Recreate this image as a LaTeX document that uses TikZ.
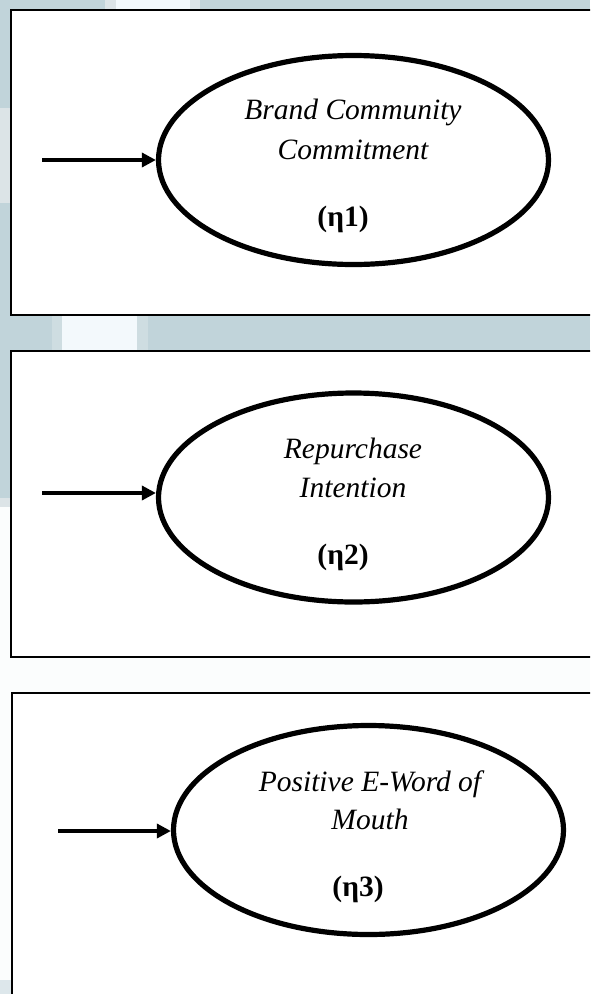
\documentclass[tikz,border=0pt]{standalone}
\usepackage{fontspec}
\setmainfont{Liberation Serif}
\usetikzlibrary{shapes.geometric,arrows.meta}

\definecolor{slatebg}{HTML}{C1D4DA}
\definecolor{slatelight}{HTML}{DCE4E7}
\definecolor{paleblue}{HTML}{F3F9FC}
\definecolor{nearwhite}{HTML}{FBFDFD}

\begin{document}
\begin{tikzpicture}[x=1pt,y=-1pt,
  panel/.style={draw=black,line width=2pt,fill=white},
  construct/.style={ellipse,draw=black,line width=5.2pt,
    minimum width=390pt,minimum height=209pt,inner sep=0pt},
  nametext/.style={font=\fontsize{29.5}{34}\selectfont\itshape,anchor=base,inner sep=0pt},
  etatext/.style={font=\fontsize{29.5}{34}\selectfont\bfseries,anchor=base,inner sep=0pt},
  feed/.style={line width=3.4pt,-{Triangle[length=14pt,width=14pt]}}
]
\useasboundingbox (0,0) rectangle (590,994);
\clip (0,0) rectangle (590,994);

% slide background
\fill[slatebg] (0,0) rectangle (590,505);
\fill[nearwhite] (0,505) rectangle (590,994);
\fill[slatelight] (0,108) rectangle (11,203);
\fill[slatelight] (0,498) rectangle (11,507);
\fill[slatebg!55!white] (0,980) rectangle (12,994);
\fill[slatelight] (105,0) rectangle (200,10);
\fill[paleblue] (116,0) rectangle (190,10);
\fill[slatebg!80!white] (52,316) rectangle (148,351);
\fill[paleblue] (62,316) rectangle (137,351);

% panels
\draw[panel] (11,9.5) rectangle (610,315);
\draw[panel] (11,351) rectangle (610,657);
\draw[panel] (12,693) rectangle (610,1010);

% constructs
\node[construct] (e1) at (353.5,160) {};
\node[construct] (e2) at (353.5,497.5) {};
\node[construct] (e3) at (368.5,830) {};

\node[nametext] (t1a) at (353,119) {Brand Community};
\node[nametext] (t1b) at (353,159) {Commitment};
\node[etatext]  (t1c) at (343,226) {(η1)};

\node[nametext] (t2a) at (353,458) {Repurchase};
\node[nametext] (t2b) at (353,497) {Intention};
\node[etatext]  (t2c) at (343,564) {(η2)};

\node[nametext] (t3a) at (370,791) {Positive E-Word of};
\node[nametext] (t3b) at (370,829) {Mouth};
\node[etatext]  (t3c) at (358,896) {(η3)};

% incoming paths
\coordinate (s1) at (42,160);
\coordinate (s2) at (42,493);
\coordinate (s3) at (58,831);
\draw[feed] (s1) -- (e1.west);
\draw[feed] (s2) -- (e2.west |- s2);
\draw[feed] (s3) -- (e3.west |- s3);
\end{tikzpicture}
\end{document}
